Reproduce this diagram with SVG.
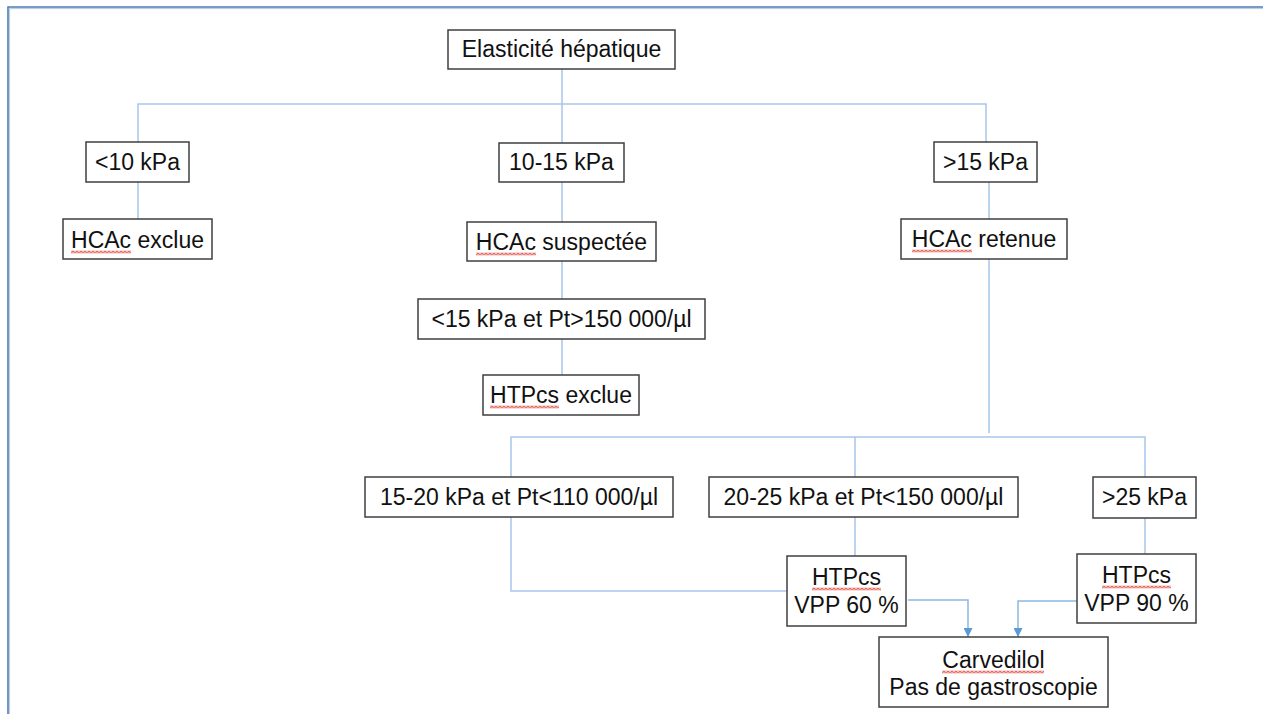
<svg xmlns="http://www.w3.org/2000/svg" width="1263" height="714" viewBox="0 0 1263 714">
<style>
.box{fill:#fff;stroke:#3f3f3f;stroke-width:1.5}
.t{font-family:"Liberation Sans",Arial,sans-serif;font-size:23px;fill:#111;text-anchor:middle}
.c{fill:none;stroke:#a7c6ea;stroke-width:1.5}
.a{fill:none;stroke:#8db6e4;stroke-width:1.5}
.sq{fill:url(#wave)}
</style>
<defs>
<pattern id="wave" width="4" height="3" patternUnits="userSpaceOnUse">
<path d="M0,2.5 L2,0.5 L4,2.5" fill="none" stroke="#e0463c" stroke-width="1.1"/>
</pattern>
<marker id="arr" viewBox="0 0 10 10" refX="10" refY="5" markerWidth="9" markerHeight="9" markerUnits="userSpaceOnUse" orient="auto">
<path d="M0,0 L10,5 L0,10 Z" fill="#5b9bd5"/>
</marker>
</defs>
<rect width="1263" height="714" fill="#fff"/>
<g id="frame">
<path d="M8,714 V7 H1263" fill="none" stroke="#4f7cae" stroke-width="1.6"/>
<path d="M9.6,714 V8.6 H1263" fill="none" stroke="#b4cbe6" stroke-width="1"/>
</g>
<g id="connectors">
<path class="c" d="M562,69 V104"/>
<path class="c" d="M138,142 V104 H986 V142"/>
<path class="c" d="M562,104 V143"/>
<path class="c" d="M138,182 V219"/>
<path class="c" d="M562,182 V222"/>
<path class="c" d="M989,182 V219"/>
<path class="c" d="M562,261 V299"/>
<path class="c" d="M562,339 V375"/>
<path class="c" d="M989,259 V433"/>
<path class="c" d="M511,477 V437 H1145 V477"/>
<path class="c" d="M855,437 V477"/>
<path class="c" d="M511,517 V591 H787"/>
<path class="c" d="M855,517 V556"/>
<path class="c" d="M1145,518 V554"/>
<path class="a" d="M908,600 H968 V637" marker-end="url(#arr)"/>
<path class="a" d="M1077,601 H1018 V637" marker-end="url(#arr)"/>
</g>
<g id="n_elasticite">
<rect class="box" x="448" y="30" width="227" height="39"/>
<text class="t" x="561.5" y="57">Elasticité hépatique</text>
</g>
<g id="n_lt10">
<rect class="box" x="86" y="142" width="103" height="40"/>
<text class="t" x="137.5" y="170">&lt;10 kPa</text>
</g>
<g id="n_10_15">
<rect class="box" x="499" y="143" width="125" height="39"/>
<text class="t" x="561.5" y="170">10-15 kPa</text>
</g>
<g id="n_gt15">
<rect class="box" x="934" y="142" width="103" height="40"/>
<text class="t" x="985.5" y="170">&gt;15 kPa</text>
</g>
<g id="n_hcac_exclue">
<rect class="box" x="63" y="219" width="149" height="40"/>
<text class="t" x="137.5" y="248">HCAc exclue</text>
<rect class="sq" x="0" y="0" width="60" height="3" transform="translate(71,250.5)"/>
</g>
<g id="n_hcac_suspectee">
<rect class="box" x="467" y="222" width="189" height="39"/>
<text class="t" x="561.5" y="250">HCAc suspectée</text>
<rect class="sq" x="0" y="0" width="60" height="3" transform="translate(476,252.5)"/>
</g>
<g id="n_hcac_retenue">
<rect class="box" x="901" y="219" width="166" height="40"/>
<text class="t" x="984" y="247">HCAc retenue</text>
<rect class="sq" x="0" y="0" width="60" height="3" transform="translate(912,249.5)"/>
</g>
<g id="n_lt15_pt">
<rect class="box" x="418" y="299" width="287" height="40"/>
<text class="t" x="561.5" y="327">&lt;15 kPa et Pt&gt;150 000/µl</text>
</g>
<g id="n_htpcs_exclue">
<rect class="box" x="483" y="375" width="156" height="40"/>
<text class="t" x="561" y="403">HTPcs exclue</text>
<rect class="sq" x="0" y="0" width="69" height="3" transform="translate(490,405.5)"/>
</g>
<g id="n_15_20">
<rect class="box" x="365" y="477" width="308" height="40"/>
<text class="t" x="519" y="505">15-20 kPa et Pt&lt;110 000/µl</text>
</g>
<g id="n_20_25">
<rect class="box" x="709" y="477" width="309" height="40"/>
<text class="t" x="863.5" y="505">20-25 kPa et Pt&lt;150 000/µl</text>
</g>
<g id="n_gt25">
<rect class="box" x="1093" y="477" width="103" height="41"/>
<text class="t" x="1144.5" y="505">&gt;25 kPa</text>
</g>
<g id="n_htpcs_60">
<rect class="box" x="787" y="556" width="119" height="70"/>
<text class="t" x="846.5" y="585">HTPcs</text>
<text class="t" x="846.5" y="613">VPP 60 %</text>
<rect class="sq" x="0" y="0" width="69" height="3" transform="translate(812,587.5)"/>
</g>
<g id="n_htpcs_90">
<rect class="box" x="1077" y="554" width="119" height="69"/>
<text class="t" x="1136.5" y="583">HTPcs</text>
<text class="t" x="1136.5" y="611">VPP 90 %</text>
<rect class="sq" x="0" y="0" width="69" height="3" transform="translate(1102,585.5)"/>
</g>
<g id="n_carvedilol">
<rect class="box" x="879" y="637" width="229" height="70"/>
<text class="t" x="993.5" y="668">Carvedilol</text>
<text class="t" x="993.5" y="695">Pas de gastroscopie</text>
<rect class="sq" x="0" y="0" width="102" height="3" transform="translate(942,670.5)"/>
</g>
</svg>
